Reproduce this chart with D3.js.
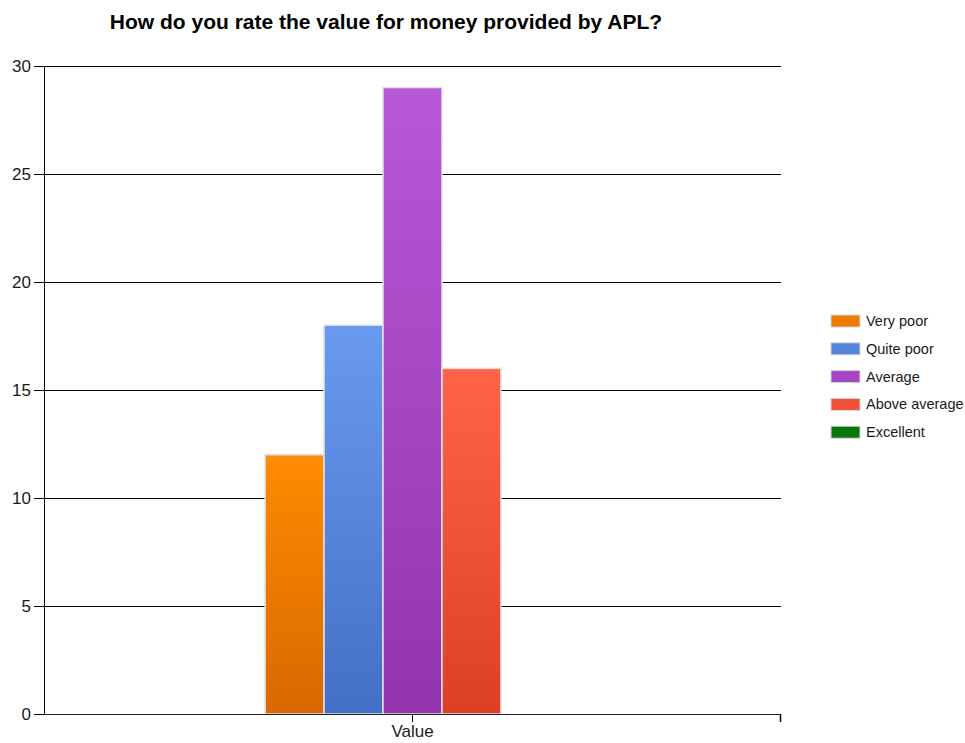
<!DOCTYPE html>
<html>
<head>
<meta charset="utf-8">
<script src="https://cdn.jsdelivr.net/npm/d3@7/dist/d3.min.js"></script>
<style>
  html, body { margin: 0; padding: 0; background: #fff; }
  svg { display: block; font-family: "Liberation Sans", Arial, sans-serif; }
</style>
</head>
<body>
<svg id="chart" width="965" height="743"></svg>
<script>
// Survey responses
const categories = ["Value"];
const seriesNames = ["Very poor", "Quite poor", "Average", "Above average", "Excellent"];
const seriesValues = [12, 18, 29, 16, 0];
const yTicks = [0, 5, 10, 15, 20, 25, 30];
const titleText = "How do you rate the value for money provided by APL?";

// Gradient stops (top, bottom) and legend swatch colour per series
const barTop =    ["#ff8c00", "#6a9af0", "#b958d8", "#ff6449", "#108a10"];
const barBottom = ["#d86800", "#4270c6", "#9434ac", "#dc3f24", "#066606"];
const swatch =    ["#ec7d00", "#5585da", "#a544c4", "#ee5136", "#0b760b"];

const svg = d3.select("#chart");
const margin = { left: 44, right: 781, top: 66, bottom: 714 };

const x0 = d3.scaleBand().domain(categories)
  .range([margin.left, margin.right]).paddingInner(0).paddingOuter(0.75);
const x1 = d3.scaleBand().domain(seriesNames).range([0, x0.bandwidth()]).padding(0);
const y = d3.scaleLinear().domain([0, 30]).range([margin.bottom, margin.top]);

// Gradients
const defs = svg.append("defs");
seriesNames.forEach((s, i) => {
  const g = defs.append("linearGradient").attr("id", "grad" + i)
    .attr("x1", 0).attr("y1", 0).attr("x2", 0).attr("y2", 1);
  g.append("stop").attr("offset", "0%").attr("stop-color", barTop[i]);
  g.append("stop").attr("offset", "100%").attr("stop-color", barBottom[i]);
});

// Title
svg.append("text")
  .attr("x", 386).attr("y", 29)
  .attr("text-anchor", "middle")
  .attr("font-size", "21px").attr("font-weight", "bold").attr("fill", "#000")
  .text(titleText);

// Horizontal gridlines with left ticks
const yAxis = d3.axisLeft(y).tickValues(yTicks)
  .tickSize(-(margin.right - margin.left)).tickSizeOuter(0).tickPadding(14);
const yg = svg.append("g").attr("transform", `translate(${margin.left},0)`).call(yAxis);
yg.select(".domain").remove();
yg.selectAll(".tick line").attr("stroke", "#000").attr("x1", -10).attr("stroke-width", 1);
yg.selectAll(".tick text").attr("font-size", "17px").attr("fill", "#1a1a1a")
  .attr("font-family", "'Liberation Sans', Arial, sans-serif").attr("x", -13);

// Left axis line
svg.append("line")
  .attr("x1", margin.left + 0.5).attr("x2", margin.left + 0.5)
  .attr("y1", y(30)).attr("y2", y(0))
  .attr("stroke", "#000");

// Bars
const group = svg.append("g").attr("transform", `translate(${x0(categories[0])},0)`);
group.selectAll("rect").data(seriesValues).join("rect")
  .attr("x", (d, i) => x1(seriesNames[i]))
  .attr("y", d => y(d))
  .attr("width", x1.bandwidth())
  .attr("height", d => y(0) - y(d))
  .attr("fill", (d, i) => `url(#grad${i})`)
  .attr("stroke", "#e0e0e0").attr("stroke-width", 1.5);

// Bottom axis
const xAxis = d3.axisBottom(x0).tickSizeOuter(0).tickSize(8).tickPadding(3);
const xg = svg.append("g").attr("transform", `translate(0,${margin.bottom})`).call(xAxis);
xg.select(".domain").attr("stroke", "#222")
  .attr("d", `M${margin.left},0.5H${margin.right}`);
xg.selectAll(".tick line").attr("stroke", "#000");
xg.selectAll(".tick text").attr("font-size", "17px").attr("fill", "#1a1a1a")
  .attr("font-family", "'Liberation Sans', Arial, sans-serif");
xg.append("line").attr("x1", margin.right - 0.5).attr("x2", margin.right - 0.5)
  .attr("y1", 0).attr("y2", 8).attr("stroke", "#000").attr("stroke-width", 1.5);

// Legend
const legend = svg.append("g").attr("transform", "translate(831,315)");
const items = legend.selectAll("g").data(seriesNames).join("g")
  .attr("transform", (d, i) => `translate(0,${i * 27.8})`);
items.append("rect").attr("width", 29).attr("height", 12)
  .attr("fill", (d, i) => swatch[i]).attr("stroke", "#d8d8d8").attr("stroke-width", 1);
items.append("text").attr("x", 35).attr("y", 11)
  .attr("font-size", "14.5px").attr("fill", "#1a1a1a")
  .attr("font-family", "'Liberation Sans', Arial, sans-serif")
  .text(d => d);
</script>
</body>
</html>
